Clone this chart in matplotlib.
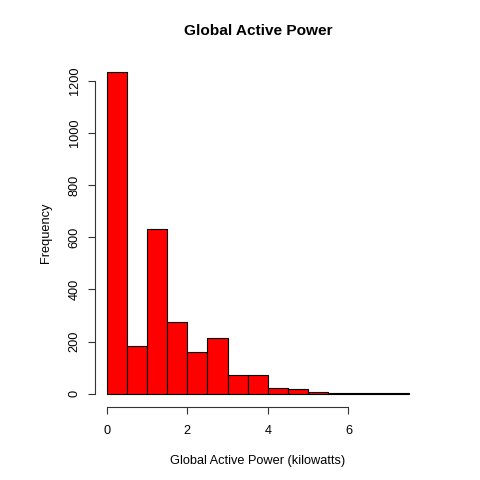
import matplotlib
matplotlib.use("Agg")
import matplotlib.pyplot as plt
import numpy as np

bin_edges = [0.0, 0.5, 1.0, 1.5, 2.0, 2.5, 3.0, 3.5, 4.0, 4.5, 5.0, 5.5, 6.0, 6.5, 7.0, 7.5]
counts = [1235, 182, 632, 275, 159, 213, 71, 71, 21, 17, 8, 3, 1, 1, 1]
x_ticks = [0, 2, 4, 6]
y_ticks = [0, 200, 400, 600, 800, 1000, 1200]

plt.rcParams['font.family'] = ['Liberation Sans', 'DejaVu Sans']

fig = plt.figure(figsize=(4.8, 4.8), dpi=100)
ax = fig.add_axes([0.197, 0.153, 0.68, 0.7245])

widths = np.diff(bin_edges)
ax.bar(bin_edges[:-1], counts, width=widths, align='edge', color='#ff0000',
       edgecolor='black', linewidth=0.8)

xmax = bin_edges[-1]
ymax = max(counts)
ax.set_xlim(-0.04 * xmax, xmax * 1.04)
ax.set_ylim(-0.04 * ymax, ymax * 1.04)

for s in ['top', 'right']:
    ax.spines[s].set_visible(False)
ax.spines['bottom'].set_bounds(x_ticks[0], x_ticks[-1])
ax.spines['left'].set_bounds(y_ticks[0], y_ticks[-1])
for s in ['bottom', 'left']:
    ax.spines[s].set_color('#333333')
    ax.spines[s].set_linewidth(0.8)

ax.set_xticks(x_ticks)
ax.set_yticks(y_ticks)
ax.set_yticklabels([str(v) for v in y_ticks], rotation=90, va='center')
ax.tick_params(axis='both', length=5, width=0.8, color='#333333', labelsize=9.2)
ax.tick_params(axis='x', pad=8)
ax.tick_params(axis='y', pad=5)

ax.set_title('Global Active Power', fontsize=11.1, fontweight='bold', pad=17)
ax.set_xlabel('Global Active Power (kilowatts)', fontsize=9.2, labelpad=13)
ax.set_ylabel('Frequency', fontsize=9.2, labelpad=12)

fig.savefig('out.png', dpi=100)
